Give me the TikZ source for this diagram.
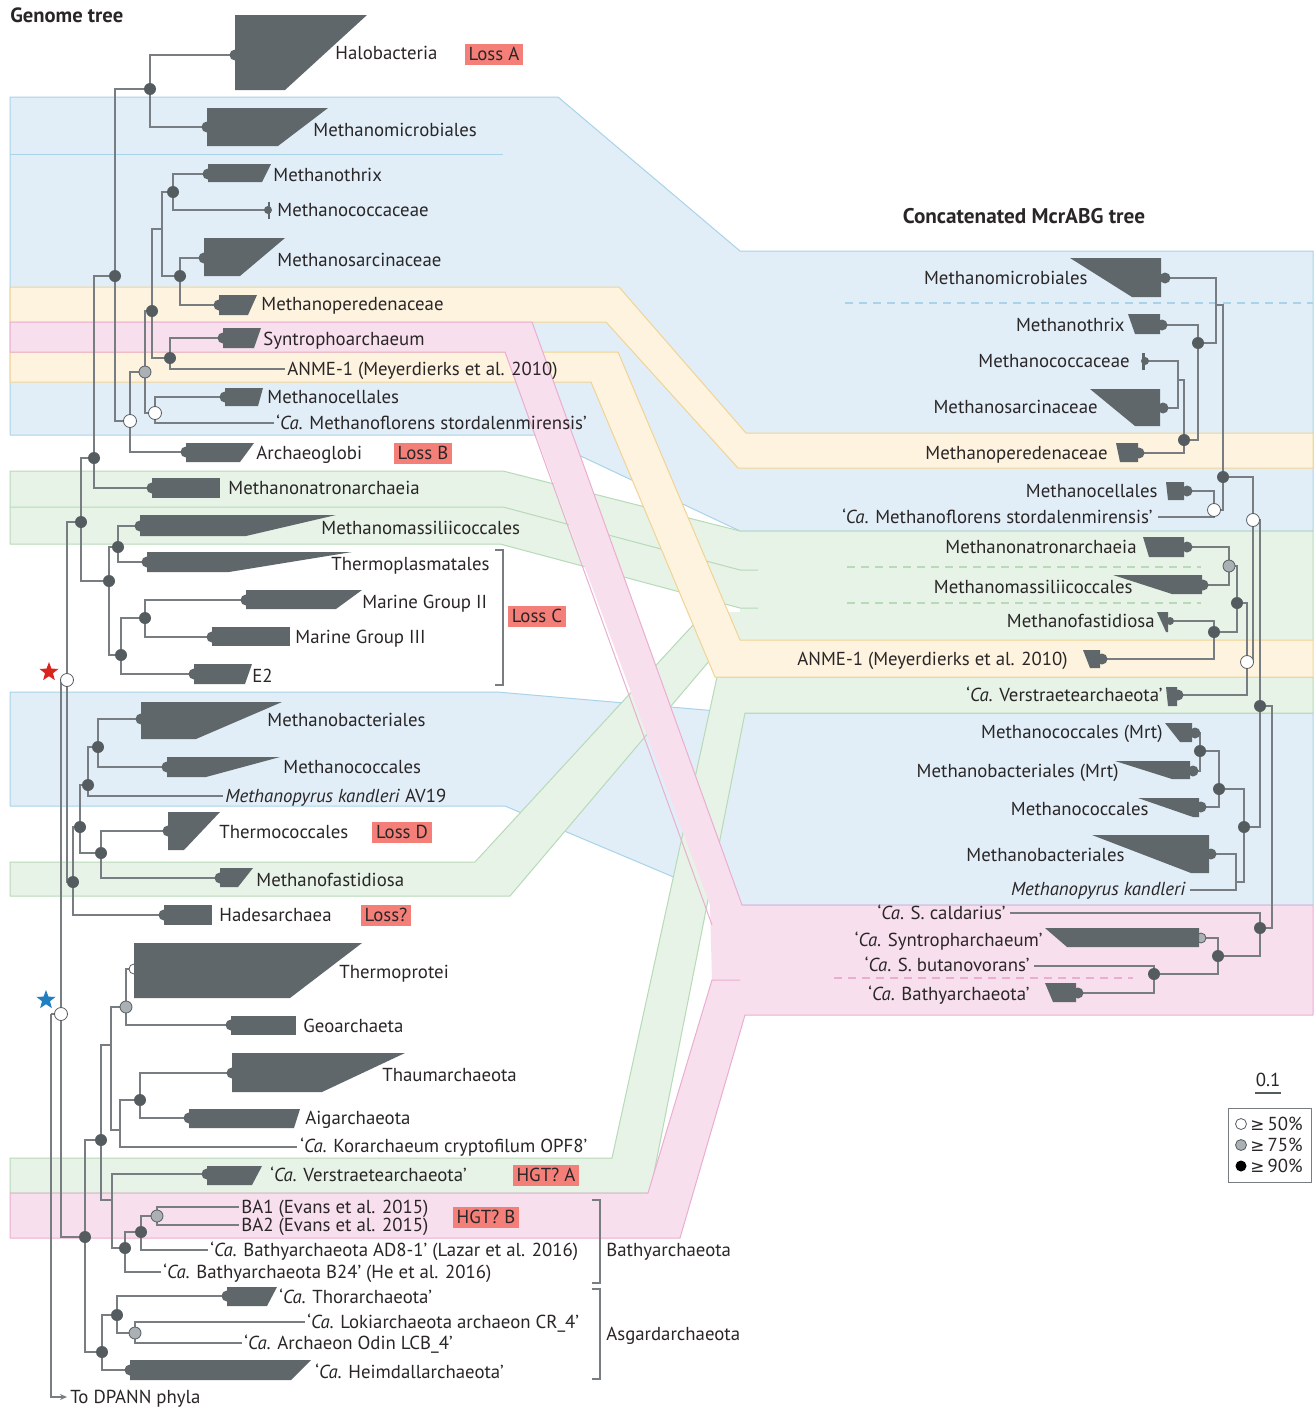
\documentclass[tikz,border=0pt]{standalone}
\usepackage{fontspec}
\setmainfont{PT Sans}
\newfontfamily\gefont{DejaVu Sans}
\usetikzlibrary{shapes.geometric,arrows.meta}
\definecolor{wedgec}{HTML}{60676B}
\definecolor{branch}{HTML}{777D81}
\definecolor{dotc}{HTML}{555C60}
\definecolor{gdotc}{HTML}{AAB0B4}
\definecolor{bluef}{HTML}{E1EEF8}
\definecolor{bluel}{HTML}{A9D3E8}
\definecolor{yelf}{HTML}{FEF3DF}
\definecolor{yell}{HTML}{F1D495}
\definecolor{pinkf}{HTML}{F8DFEE}
\definecolor{pinkl}{HTML}{EBAED0}
\definecolor{grnf}{HTML}{E6F3E6}
\definecolor{grnl}{HTML}{B7DAB8}
\definecolor{lossc}{HTML}{F47F79}
\definecolor{txt}{HTML}{2A2627}
\definecolor{starred}{HTML}{D8261E}
\definecolor{starblue}{HTML}{1F7FC1}
\newcommand\lblfont{\fontsize{9.4}{10}\selectfont}
\newcommand\wedgeshape[5]{\fill[wedgec] (#1,#2) -- (#4,#2) -- (#5,#3) -- (#1,#3) -- cycle;}
\begin{document}
\begin{tikzpicture}[x=0.5pt,y=-0.5pt,
  br/.style={draw=branch,line width=0.6pt},
  lbl/.style={anchor=mid west,inner sep=0pt,font=\lblfont,text=txt,yshift=-0.7pt},
  rlbl/.style={anchor=mid east,inner sep=0pt,font=\lblfont,text=txt,yshift=-0.7pt},
  loss/.style={fill=lossc,inner xsep=2pt,inner ysep=0pt,minimum height=10.5pt,font=\lblfont,text=txt},
  ddot/.style={circle,fill=dotc,inner sep=0pt,minimum size=6pt},
  gdot/.style={circle,fill=gdotc,draw=dotc,line width=0.4pt,inner sep=0pt,minimum size=6pt},
  wdot/.style={circle,fill=white,draw=dotc,line width=0.4pt,inner sep=0pt,minimum size=6.5pt},
  ldot/.style={circle,fill=wedgec,inner sep=0pt,minimum size=5.5pt},
  sdot/.style={circle,fill=wedgec,inner sep=0pt,minimum size=4pt},
  bandb/.style={draw=bluel,line width=0.5pt},
  bandg/.style={draw=grnl,line width=0.5pt},
  bandy/.style={draw=yell,line width=0.5pt},
  bandp/.style={draw=pinkl,line width=0.5pt},
]
\useasboundingbox (0,0) rectangle (1314,1408);
\fill[white] (0,0) rectangle (1314,1408);

% ---------------- coordinates: left tree leaves
\coordinate (Lhalo) at (235,55);
\coordinate (Lmmic) at (207,127);
\coordinate (Lmthx) at (208,174);
\coordinate (Lmcoc) at (268,210);
\coordinate (Lmsar) at (204,258);
\coordinate (Lmper) at (219,305);
\coordinate (Lsynt) at (223,338);
\coordinate (Lanme) at (285,369);
\coordinate (Lmcel) at (225,397);
\coordinate (Lmflo) at (274,423);
\coordinate (Larch) at (186,452);
\coordinate (Lmnat) at (152,488);
\coordinate (Lmmas) at (140,526);
\coordinate (Ltpla) at (147,562);
\coordinate (Lmg2) at (246,600);
\coordinate (Lmg3) at (212,637);
\coordinate (Le2) at (194,674);
\coordinate (Lmbac) at (141,719);
\coordinate (Lmcocc) at (167,767);
\coordinate (Lmpyr) at (223,796);
\coordinate (Ltcoc) at (168,831);
\coordinate (Lmfas) at (220,878);
\coordinate (Lhade) at (164,915);
\coordinate (Ltpro) at (134,969);
\coordinate (Lgeo) at (231,1025);
\coordinate (Lthau) at (232,1073);
\coordinate (Laig) at (189,1118);
\coordinate (Lkor) at (297,1147);
\coordinate (Lvers) at (207,1174);
\coordinate (Lba1) at (239,1207);
\coordinate (Lba2) at (239,1225);
\coordinate (Lad8) at (208,1250);
\coordinate (Lb24) at (161,1272);
\coordinate (Lthor) at (227,1296);
\coordinate (Lloki) at (305,1322);
\coordinate (Lodin) at (242,1343);
\coordinate (Lheim) at (130,1370);
\coordinate (Ldpann) at (67,1397);
% left internal nodes
\coordinate (n1) at (150,89);
\coordinate (n2) at (173,192);
\coordinate (n3) at (180,276);
\coordinate (n4) at (162,229);
\coordinate (n5) at (170,358);
\coordinate (n6) at (152,311);
\coordinate (n7) at (155,413);
\coordinate (n8) at (145,372);
\coordinate (n9) at (130,421);
\coordinate (n10) at (115,276);
\coordinate (n11) at (94,458);
\coordinate (n12) at (118,547);
\coordinate (n13) at (145,618);
\coordinate (n14) at (121,655);
\coordinate (n15) at (109,581);
\coordinate (n16) at (81,522);
\coordinate (n17) at (98,747);
\coordinate (n18) at (88,785);
\coordinate (n19) at (101,853);
\coordinate (n20) at (80,827);
\coordinate (n21) at (73,882);
\coordinate (n22) at (67,680);
\coordinate (n23) at (126,1007);
\coordinate (n24) at (140,1100);
\coordinate (n25) at (120,1130);
\coordinate (n26) at (111,1045);
\coordinate (n27) at (157,1216);
\coordinate (n28) at (141,1232);
\coordinate (n29) at (125,1248);
\coordinate (n30) at (112,1200);
\coordinate (n31) at (101,1140);
\coordinate (n32) at (135,1333);
\coordinate (n33) at (117,1315);
\coordinate (n34) at (102,1352);
\coordinate (n35) at (85,1237);
\coordinate (n36) at (61,1014);
\coordinate (root) at (51,1014);
% right tree leaves
\coordinate (Rmmic) at (1165,278);
\coordinate (Rmthx) at (1162,325);
\coordinate (Rmcoc) at (1145,361);
\coordinate (Rmsar) at (1163,408);
\coordinate (Rmper) at (1139,453);
\coordinate (Rmcel) at (1187,491);
\coordinate (Rmflo) at (1158,517);
\coordinate (Rmnat) at (1187,547);
\coordinate (Rmmas) at (1203,585);
\coordinate (Rmfas) at (1170,621);
\coordinate (Ranme) at (1102,659);
\coordinate (Rvers) at (1178,695);
\coordinate (RmcocM) at (1195,733);
\coordinate (RmbacM) at (1193,771);
\coordinate (Rmcocc) at (1201,807);
\coordinate (Rmbac) at (1211,854);
\coordinate (Rmpyr) at (1190,890);
\coordinate (Rscal) at (1010,913);
\coordinate (Rsynt) at (1201,938);
\coordinate (Rsbut) at (1034,966);
\coordinate (Rbath) at (1078,993);
% right internal nodes
\coordinate (r1) at (1178,380);
\coordinate (r2) at (1184,440);
\coordinate (r3) at (1198,343);
\coordinate (r4) at (1216,305);
\coordinate (r5) at (1214,510);
\coordinate (r6) at (1223,477);
\coordinate (r7) at (1229,566);
\coordinate (r8) at (1214,632);
\coordinate (r9) at (1237,603);
\coordinate (r10) at (1247,662);
\coordinate (r11) at (1253,520);
\coordinate (r12) at (1200,751);
\coordinate (r13) at (1219,789);
\coordinate (r14) at (1236,882);
\coordinate (r15) at (1244,827);
\coordinate (r16) at (1260,706);
\coordinate (r17) at (1154,974);
\coordinate (r18) at (1218,956);
\coordinate (r19) at (1260,928);
\coordinate (r20) at (1272,800);

% ---------------- bands: blue
\fill[bluef] (10,97) -- (558,97) -- (740,251) -- (1313,251) -- (1313,531) -- (740,531) -- (536,435) -- (10,435) -- cycle;
\draw[bandb] (10,435) -- (10,97) -- (558,97) -- (740,251) -- (1313,251) -- (1313,531);
\draw[bandb] (10,435) -- (536,435) -- (740,531) -- (1313,531);
\draw[bandb] (10,154) -- (503,154);
\fill[bluef] (10,692) -- (497,692) -- (740,713) -- (1313,713) -- (1313,905) -- (740,905) -- (505,806) -- (10,806) -- cycle;
\draw[bandb] (10,806) -- (10,692) -- (497,692) -- (740,713) -- (1313,713) -- (1313,905);
\draw[bandb] (10,806) -- (505,806) -- (740,905) -- (1313,905);
% green
\fill[grnf] (740,531) rectangle (1313,640);
\fill[grnf] (10,471) -- (503,471) -- (740,531) -- (740,570) -- (503,507) -- (10,507) -- cycle;
\fill[grnf] (10,507) -- (503,507) -- (740,570) -- (740,608) -- (500,544) -- (10,544) -- cycle;
\fill[grnf] (10,862) -- (475,862) -- (705,612) -- (740,612) -- (740,640) -- (727,640) -- (510,896) -- (10,896) -- cycle;
\fill[grnf] (10,1158) -- (612,1158) -- (717,677) -- (1313,677) -- (1313,713) -- (745,713) -- (650,1193) -- (10,1193) -- cycle;
\draw[bandg] (10,544) -- (10,471) -- (503,471) -- (740,531) -- (1313,531) -- (1313,640);
\draw[bandg] (10,507) -- (503,507) -- (740,570) -- (758,570);
\draw[bandg] (10,544) -- (500,544) -- (740,608) -- (758,608);
\draw[bandg] (10,896) -- (10,862) -- (475,862) -- (705,612);
\draw[bandg] (10,896) -- (510,896) -- (727,640);
\draw[bandg] (10,1193) -- (10,1158) -- (612,1158) -- (717,677) -- (1313,677) -- (1313,713);
\draw[bandg] (10,1193) -- (650,1193) -- (745,713) -- (1313,713);
\draw[bandg] (740,640) -- (1313,640);
% yellow
\fill[yelf] (10,287) -- (619,287) -- (746,433) -- (1313,433) -- (1313,468) -- (738,468) -- (606,322) -- (10,322) -- cycle;
\draw[bandy] (10,322) -- (10,287) -- (619,287) -- (746,433) -- (1313,433) -- (1313,468);
\draw[bandy] (10,322) -- (606,322) -- (738,468) -- (1313,468);
\fill[yelf] (10,352) -- (618,352) -- (740,640) -- (1313,640) -- (1313,677) -- (715,677) -- (591,382) -- (10,382) -- cycle;
\draw[bandy] (10,382) -- (10,352) -- (618,352) -- (740,640) -- (1313,640) -- (1313,677);
\draw[bandy] (10,382) -- (591,382) -- (715,677) -- (1313,677);
% pink
\fill[pinkf] (10,322) -- (532,322) -- (742,905) -- (1313,905) -- (1313,1015) -- (745,1015) -- (680,1238) -- (10,1238) -- (10,1193) -- (648,1193) -- (712,980) -- (710,905) -- (505,352) -- (10,352) -- cycle;
\draw[bandp] (10,352) -- (10,322) -- (532,322) -- (742,905) -- (1313,905) -- (1313,1015);
\draw[bandp] (10,352) -- (505,352) -- (712,925);
\draw[bandp] (10,1238) -- (10,1193) -- (648,1193) -- (712,980) -- (740,980);
\draw[bandp] (10,1238) -- (680,1238) -- (745,1015) -- (1313,1015);

% dashed separators on the right
\draw[draw=bluel,line width=0.6pt,dash pattern=on 4pt off 3pt] (845,303) -- (1313,303);
\draw[draw=grnl,line width=0.6pt,dash pattern=on 4pt off 3pt] (847,567) -- (1201,567);
\draw[draw=grnl,line width=0.6pt,dash pattern=on 4pt off 3pt] (847,603) -- (1201,603);
\draw[draw=pinkl,line width=0.6pt,dash pattern=on 4pt off 3pt] (834,978) -- (1133,978);

% ---------------- branches left
\foreach \p/\c in {n1/Lhalo,n1/Lmmic,n2/Lmthx,n2/Lmcoc,n3/Lmsar,n3/Lmper,n4/n2,n4/n3,
  n5/Lsynt,n5/Lanme,n6/n4,n6/n5,n7/Lmcel,n7/Lmflo,n8/n6,n8/n7,n9/n8,n9/Larch,
  n10/n1,n10/n9,n11/n10,n11/Lmnat,n12/Lmmas,n12/Ltpla,n13/Lmg2,n13/Lmg3,n14/n13,n14/Le2,
  n15/n12,n15/n14,n16/n11,n16/n15,n17/Lmbac,n17/Lmcocc,n18/n17,n18/Lmpyr,n19/Ltcoc,n19/Lmfas,
  n20/n18,n20/n19,n21/n20,n21/Lhade,n22/n16,n22/n21,n23/Ltpro,n23/Lgeo,n24/Lthau,n24/Laig,
  n25/n24,n25/Lkor,n26/n23,n26/n25,n27/Lba1,n27/Lba2,n28/n27,n28/Lad8,n29/n28,n29/Lb24,
  n30/Lvers,n30/n29,n31/n26,n31/n30,n32/Lloki,n32/Lodin,n33/Lthor,n33/n32,n34/n33,n34/Lheim,
  n35/n31,n35/n34,n36/n22,n36/n35}
  {\draw[br] (\p) |- (\c);}
\draw[br] (root) -- (n36);
\draw[br,-{Stealth[length=3.5pt,width=3pt]}] (root) |- (Ldpann);
% branches right
\foreach \p/\c in {r1/Rmcoc,r1/Rmsar,r2/r1,r2/Rmper,r3/Rmthx,r3/r2,r4/Rmmic,r4/r3,
  r5/Rmcel,r5/Rmflo,r6/r4,r6/r5,r7/Rmnat,r7/Rmmas,r8/Rmfas,r8/Ranme,r9/r7,r9/r8,
  r10/r9,r10/Rvers,r11/r6,r11/r10,r12/RmcocM,r12/RmbacM,r13/r12,r13/Rmcocc,
  r14/Rmbac,r14/Rmpyr,r15/r13,r15/r14,r16/r11,r16/r15,r17/Rsbut,r17/Rbath,
  r18/Rsynt,r18/r17,r19/Rscal,r19/r18,r20/r16,r20/r19}
  {\draw[br] (\p) |- (\c);}

% ---------------- wedges left (xl,y1,y2,xt,xb)
\wedgeshape{235}{15}{90}{367}{285}
\wedgeshape{207}{108}{146}{328}{278}
\wedgeshape{208}{164}{182}{271}{262}
\wedgeshape{268}{202}{219}{270}{270}
\wedgeshape{204}{238}{276}{285}{240}
\wedgeshape{219}{295}{315}{257}{248}
\wedgeshape{223}{328}{348}{261}{254}
\wedgeshape{225}{388}{406}{263}{258}
\wedgeshape{186}{443}{462}{254}{240}
\wedgeshape{152}{478}{498}{220}{220}
\wedgeshape{140}{515}{536}{336}{246}
\wedgeshape{147}{552}{572}{352}{229}
\wedgeshape{246}{590}{609}{362}{336}
\wedgeshape{212}{627}{646}{290}{290}
\wedgeshape{194}{664}{684}{252}{245}
\wedgeshape{141}{702}{739}{282}{196}
\wedgeshape{167}{757}{777}{280}{206}
\wedgeshape{168}{812}{850}{220}{184}
\wedgeshape{220}{868}{887}{253}{238}
\wedgeshape{164}{905}{925}{212}{212}
\wedgeshape{231}{1016}{1035}{296}{296}
\wedgeshape{232}{1053}{1092}{405}{322}
\wedgeshape{189}{1109}{1128}{300}{294}
\wedgeshape{207}{1166}{1185}{262}{252}
\wedgeshape{227}{1287}{1306}{277}{267}
\wedgeshape{130}{1360}{1380}{311}{291}
% wedges right (xr,y1,y2,xtl,xbl)
\wedgeshape{1161}{258}{297}{1070}{1132}
\wedgeshape{1160}{314}{334}{1128}{1135}
\wedgeshape{1145}{353}{370}{1142}{1142}
\wedgeshape{1160}{389}{426}{1090}{1135}
\wedgeshape{1138}{443}{462}{1116}{1120}
\wedgeshape{1184}{482}{500}{1166}{1168}
\wedgeshape{1184}{537}{557}{1143}{1149}
\wedgeshape{1202}{575}{594}{1113}{1172}
\wedgeshape{1168}{612}{632}{1157}{1166}
\wedgeshape{1100}{650}{668}{1083}{1090}
\wedgeshape{1177}{687}{706}{1166}{1168}
\wedgeshape{1192}{723}{742}{1165}{1180}
\wedgeshape{1190}{761}{779}{1115}{1172}
\wedgeshape{1199}{798}{817}{1138}{1193}
\wedgeshape{1209}{835}{873}{1092}{1191}
\wedgeshape{1076}{983}{1002}{1045}{1053}

% ---------------- leaf dots
\foreach \l in {Lhalo,Lmmic,Lmthx,Lmsar,Lmper,Lsynt,Lmcel,Larch,Lmnat,Lmmas,Ltpla,Lmg2,Lmg3,Le2,
  Lmbac,Lmcocc,Ltcoc,Lmfas,Lhade,Lgeo,Lthau,Laig,Lvers,Lthor,Lheim,
  Rmmic,Rmthx,Rmsar,Rmper,Rmcel,Rmnat,Rmmas,Ranme,Rvers,RmcocM,RmbacM,Rmcocc,Rmbac,Rbath}
  {\node[ldot] at (\l) {};}
\node[sdot] at (Lmcoc) {};
\node[sdot] at (Rmcoc) {};
\node[sdot] at (Rmfas) {};
\node[circle,fill=white,draw=dotc,line width=0.4pt,inner sep=0pt,minimum size=5pt] at (Ltpro) {};
\node[circle,fill=gdotc,draw=dotc,line width=0.4pt,inner sep=0pt,minimum size=5pt] at (Rsynt) {};
\wedgeshape{134}{943}{998}{362}{290}
\wedgeshape{1199}{928}{947}{1045}{1067}

% ---------------- internal node dots
\foreach \n in {n1,n2,n3,n5,n6,n10,n11,n12,n13,n14,n15,n16,n17,n18,n19,n20,n21,n24,n28,n29,n31,n33,n34,n35,
  r2,r3,r6,r8,r9,r12,r13,r15,r16,r17,r18,r19}
  {\node[ddot] at (\n) {};}
\foreach \n in {n8,n23,n27,n32,r7} {\node[gdot] at (\n) {};}
\foreach \n in {n7,n9,n22,n36,r5,r10,r11} {\node[wdot] at (\n) {};}
\node[star,star points=5,star point ratio=2.4,fill=starred,inner sep=0pt,minimum size=10pt] (redstar) at (49,672) {};
\node[star,star points=5,star point ratio=2.4,fill=starblue,inner sep=0pt,minimum size=10pt] (bluestar) at (46,1000) {};

% ---------------- brackets
\draw[br] (495,550) -- (503,550) -- (503,685) -- (495,685);
\draw[br] (592,1200) -- (600,1200) -- (600,1283) -- (592,1283);
\draw[br] (592,1289) -- (600,1289) -- (600,1379) -- (592,1379);

% ---------------- titles
\node[anchor=mid west,inner sep=0pt,font=\fontsize{10.3}{12}\selectfont\bfseries,text=txt] (t1) at (10,18) {Genome tree};
\node[anchor=mid,inner sep=0pt,font=\fontsize{10.6}{12}\selectfont\bfseries,text=txt] (t2) at (1024,218) {Concatenated McrABG tree};

% ---------------- left labels
\node[lbl] at (335,53) {Halobacteria};
\node[lbl] at (313,130) {Methanomicrobiales};
\node[lbl] at (273,175) {Methanothrix};
\node[lbl] at (277,210) {Methanococcaceae};
\node[lbl] at (277,260) {Methanosarcinaceae};
\node[lbl] at (261,304) {Methanoperedenaceae};
\node[lbl] at (263,339) {Syntrophoarchaeum};
\node[lbl] at (287,369) {ANME-1 (Meyerdierks et al. 2010)};
\node[lbl] at (267,397) {Methanocellales};
\node[lbl] at (276,423) {‘\textit{Ca}. Methanoflorens stordalenmirensis’};
\node[lbl] at (256,453) {Archaeoglobi};
\node[lbl] at (228,488) {Methanonatronarchaeia};
\node[lbl] at (321,528) {Methanomassiliicoccales};
\node[lbl] at (331,564) {Thermoplasmatales};
\node[lbl] at (362,602) {Marine Group II};
\node[lbl] at (295,637) {Marine Group III};
\node[lbl] at (252,676) {E2};
\node[lbl] at (267,720) {Methanobacteriales};
\node[lbl] at (283,767) {Methanococcales};
\node[lbl] at (225,796) {\textit{Methanopyrus kandleri} AV19};
\node[lbl] at (219,832) {Thermococcales};
\node[lbl] at (256,880) {Methanofastidiosa};
\node[lbl] at (219,915) {Hadesarchaea};
\node[lbl] at (339,972) {Thermoprotei};
\node[lbl] at (303,1026) {Geoarchaeta};
\node[lbl] at (382,1075) {Thaumarchaeota};
\node[lbl] at (305,1118) {Aigarchaeota};
\node[lbl] at (300,1146) {‘\textit{Ca}. Korarchaeum cryptofilum OPF8’};
\node[lbl] at (270,1175) {‘\textit{Ca}. Verstraetearchaeota’};
\node[lbl] at (241,1207) {BA1 (Evans et al. 2015)};
\node[lbl] at (241,1225) {BA2 (Evans et al. 2015)};
\node[lbl] at (210,1250) {‘\textit{Ca}. Bathyarchaeota AD8-1’ (Lazar et al. 2016)};
\node[lbl] at (163,1272) {‘\textit{Ca}. Bathyarchaeota B24’ (He et al. 2016)};
\node[lbl] at (279,1297) {‘\textit{Ca}. Thorarchaeota’};
\node[lbl] at (307,1322) {‘\textit{Ca}. Lokiarchaeota archaeon CR\_4’};
\node[lbl] at (244,1343) {‘\textit{Ca}. Archaeon Odin LCB\_4’};
\node[lbl] at (315,1372) {‘\textit{Ca}. Heimdallarchaeota’};
\node[lbl] at (606,1250) {Bathyarchaeota};
\node[lbl] at (606,1334) {Asgardarchaeota};
\node[lbl] at (70,1397) {To DPANN phyla};

% loss boxes
\node[loss] (lossA) at (494,54) {Loss A};
\node[loss] (lossB) at (423,453) {Loss B};
\node[loss] (lossC) at (537,616) {Loss C};
\node[loss] (lossD) at (402,832) {Loss D};
\node[loss] (lossQ) at (386,915) {Loss?};
\node[loss] (hgtA) at (546,1175) {HGT? A};
\node[loss] (hgtB) at (486,1217) {HGT? B};

% ---------------- right labels
\node[rlbl] at (1088,278) {Methanomicrobiales};
\node[rlbl] at (1125,325) {Methanothrix};
\node[rlbl] at (1130,361) {Methanococcaceae};
\node[rlbl] at (1098,407) {Methanosarcinaceae};
\node[rlbl] at (1108,453) {Methanoperedenaceae};
\node[rlbl] at (1158,491) {Methanocellales};
\node[rlbl] at (1153,517) {‘\textit{Ca}. Methanoflorens stordalenmirensis’};
\node[rlbl] at (1137,547) {Methanonatronarchaeia};
\node[rlbl] at (1133,587) {Methanomassiliicoccales};
\node[rlbl] at (1155,621) {Methanofastidiosa};
\node[rlbl] at (1068,659) {ANME-1 (Meyerdierks et al. 2010)};
\node[rlbl] at (1163,695) {‘\textit{Ca}. Verstraetearchaeota’};
\node[rlbl] at (1163,732) {Methanococcales (Mrt)};
\node[rlbl] at (1119,771) {Methanobacteriales (Mrt)};
\node[rlbl] at (1149,809) {Methanococcales};
\node[rlbl] at (1125,855) {Methanobacteriales};
\node[rlbl] at (1186,889) {\textit{Methanopyrus kandleri}};
\node[rlbl] at (1006,913) {‘\textit{Ca}. S. caldarius’};
\node[rlbl] at (1043,940) {‘\textit{Ca}. Syntropharchaeum’};
\node[rlbl] at (1030,965) {‘\textit{Ca}. S. butanovorans’};
\node[rlbl] at (1030,994) {‘\textit{Ca}. Bathyarchaeota’};

% ---------------- scale and legend
\node[anchor=mid,inner sep=0pt,font=\lblfont,text=txt] (scl) at (1268,1081) {0.1};
\draw[draw=dotc,line width=0.9pt] (1255,1093) -- (1281,1093);
\draw[draw=branch,line width=0.5pt] (1228,1108) rectangle (1311,1182);
\node[circle,fill=white,draw=dotc,line width=0.4pt,inner sep=0pt,minimum size=5.5pt] (lg1) at (1241,1124) {};
\node[circle,fill=gdotc,draw=dotc,line width=0.4pt,inner sep=0pt,minimum size=5.5pt] (lg2) at (1241,1145) {};
\node[circle,fill=black,inner sep=0pt,minimum size=5.5pt] (lg3) at (1241,1166) {};
\node[lbl] at (1250,1124) {{\gefont\fontsize{8.4}{9}\selectfont ≥}\,50\%};
\node[lbl] at (1250,1145) {{\gefont\fontsize{8.4}{9}\selectfont ≥}\,75\%};
\node[lbl] at (1250,1166) {{\gefont\fontsize{8.4}{9}\selectfont ≥}\,90\%};
\end{tikzpicture}
\end{document}
